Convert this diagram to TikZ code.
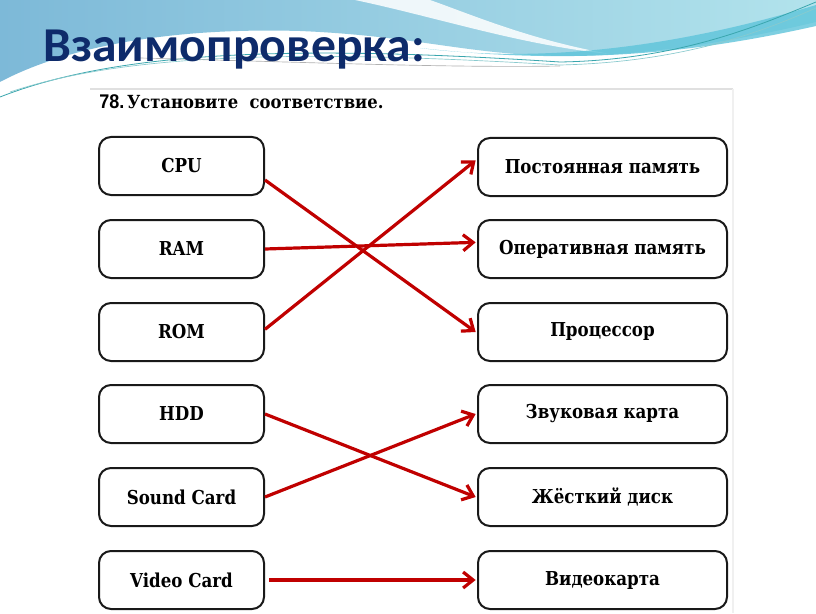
\documentclass[tikz,border=0pt]{standalone}
\usepackage{fontspec}
\setmainfont{DejaVu Serif}
\newfontfamily\ttlfont{Carlito}
\newfontfamily\numfont{Liberation Sans}
\usetikzlibrary{arrows.meta,calc}
\definecolor{arr}{HTML}{C00000}
\definecolor{navy}{HTML}{0E2B6B}
\definecolor{bluea}{HTML}{7DB9D8}
\definecolor{blueb}{HTML}{B2E3EC}
\definecolor{cyanband}{HTML}{5EC4DA}
\definecolor{thinl}{HTML}{3AA6AE}
\newcommand{\tallt}[1]{\scalebox{1}[1.15]{#1}}
\tikzset{
  box/.style={draw=black!90, line width=1.5pt, rounded corners=9pt, minimum height=43.5pt, inner sep=0pt, font=\bfseries\fontsize{12.5}{15}\selectfont},
  lbox/.style={box, minimum width=123.75pt},
  rbox/.style={box, minimum width=186.75pt},
  conn/.style={draw=arr, line width=2.4pt, -{Straight Barb[length=7.5pt,width=12pt]}},
}
\begin{document}
\begin{tikzpicture}[x=0.75pt,y=-0.75pt]
\useasboundingbox (0,0) rectangle (816,613);
\fill[white] (0,0) rectangle (816,613);
% background waves
\shade[left color=bluea, right color=blueb]
  (0,0) -- (816,0) -- (816,22) .. controls (720,45) and (630,56) .. (570,56)
  .. controls (470,56) and (420,36) .. (300,31) .. controls (160,27) and (60,50) .. (0,82) -- cycle;
\fill[white, opacity=0.85] (355,0) .. controls (440,18) and (520,45) .. (610,54)
  .. controls (530,40) and (470,14) .. (430,0) -- cycle;
\fill[white, opacity=0.7] (0,95) .. controls (80,55) and (180,35) .. (300,33)
  .. controls (200,40) and (90,60) .. (0,82) -- cycle;
\fill[cyanband, opacity=0.8] (420,48) .. controls (560,66) and (700,40) .. (816,5)
  -- (816,26) .. controls (700,52) and (580,66) .. (420,48) -- cycle;
\draw[thinl, line width=0.6pt] (0,97) .. controls (120,50) and (300,45) .. (560,62) .. controls (680,60) and (760,25) .. (816,2);
\draw[thinl!60, line width=0.5pt] (10,92) .. controls (130,52) and (310,50) .. (560,65) .. controls (690,62) and (770,28) .. (816,8);
\draw[gray!60, line width=0.5pt] (140,58) .. controls (300,62) and (450,68) .. (560,66);
% title
\node[anchor=base west, inner sep=0pt, text=navy, font=\ttlfont\bfseries\fontsize{36.5}{40}\selectfont, xscale=1.02] (title) at (43,62) {Взаимопроверка:};
% page frame
\draw[black!12, line width=1.5pt] (90,89) -- (733,89);
\draw[black!6, line width=1pt] (733,89) -- (733,613);
% heading
\node[anchor=base west, inner sep=0pt, font=\fontsize{12.3}{14}\selectfont] (head) at (99,108.5)
  {\scalebox{1}[1.1]{{\numfont\bfseries\fontsize{13.5}{14}\selectfont 78.}\,\textbf{Установите\ \ соответствие.}}};
% left boxes
\node[lbox] (cpu) at (181.5,166) {\tallt{CPU}};
\node[lbox] (ram) at (181.5,249) {\tallt{RAM}};
\node[lbox] (rom) at (181.5,332) {\tallt{ROM}};
\node[lbox] (hdd) at (181.5,414) {\tallt{HDD}};
\node[lbox] (snd) at (181.5,497) {\tallt{Sound Card}};
\node[lbox] (vid) at (181.5,580) {\tallt{Video Card}};
% right boxes
\node[rbox] (rom2) at (602.5,167) {\tallt{Постоянная память}};
\node[rbox] (ram2) at (602.5,249) {\tallt{Оперативная память}};
\node[rbox] (cpu2) at (602.5,332) {\tallt{Процессор}};
\node[rbox] (snd2) at (602.5,414) {\tallt{Звуковая карта}};
\node[rbox] (hdd2) at (602.5,497) {\tallt{Жёсткий диск}};
\node[rbox] (vid2) at (602.5,580) {\tallt{Видеокарта}};
% connectors
\draw[conn] ([yshift=-10.5pt]cpu.east) -- ([xshift=-1pt]cpu2.west);
\draw[conn] (ram.east) -- ([xshift=-1pt,yshift=5pt]ram2.west);
\draw[conn] ([yshift=2pt]rom.east) -- ([xshift=-1pt,yshift=5pt]rom2.west);
\draw[conn] (hdd.east) -- ([xshift=-1pt]hdd2.west);
\draw[conn] (snd.east) -- ([xshift=-1pt]snd2.west);
\draw[conn] ([xshift=3pt]vid.east) -- ([xshift=-1pt]vid2.west);
\end{tikzpicture}
\end{document}
